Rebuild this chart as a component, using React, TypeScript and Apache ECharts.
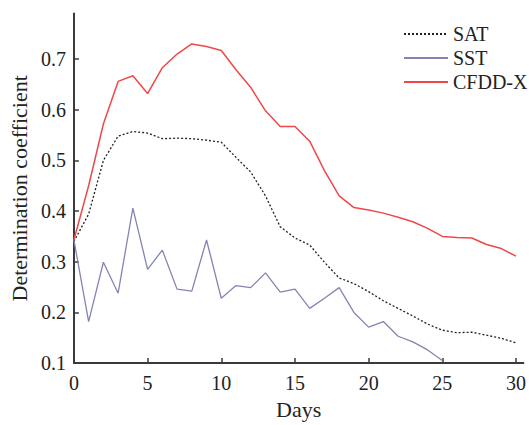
import React, { useEffect, useRef } from "react";
import * as echarts from "echarts";

const days = [0, 1, 2, 3, 4, 5, 6, 7, 8, 9, 10, 11, 12, 13, 14, 15, 16, 17, 18, 19, 20, 21, 22, 23, 24, 25, 26, 27, 28, 29, 30];

const sat = [0.34, 0.394, 0.5, 0.548, 0.557, 0.554, 0.543, 0.544, 0.543, 0.54, 0.536, 0.506, 0.477, 0.43, 0.369, 0.347, 0.333, 0.299, 0.268, 0.257, 0.241, 0.223, 0.208, 0.193, 0.177, 0.165, 0.16, 0.161, 0.155, 0.149, 0.14];

const sst = [0.343, 0.182, 0.299, 0.238, 0.406, 0.285, 0.323, 0.246, 0.242, 0.343, 0.228, 0.253, 0.249, 0.278, 0.24, 0.246, 0.208, 0.228, 0.249, 0.2, 0.171, 0.182, 0.153, 0.142, 0.126, 0.105];

const cfdd = [0.343, 0.45, 0.572, 0.656, 0.667, 0.632, 0.683, 0.71, 0.73, 0.725, 0.717, 0.679, 0.644, 0.598, 0.567, 0.567, 0.538, 0.48, 0.43, 0.407, 0.402, 0.396, 0.388, 0.379, 0.366, 0.35, 0.348, 0.347, 0.334, 0.326, 0.311];

const seriesNames = ["SAT", "SST", "CFDD-X"];
const xTicks = [0, 5, 10, 15, 20, 25, 30];
const yTicks = [0.1, 0.2, 0.3, 0.4, 0.5, 0.6, 0.7];

const FONT = "'Liberation Serif', 'Times New Roman', serif";

function pairs(values: number[]) {
  return values.map((v, i) => [days[i], v]);
}

export default function App() {
  const ref = useRef<HTMLDivElement>(null);
  useEffect(() => {
    if (!ref.current) return;
    const chart = echarts.init(ref.current, undefined, { renderer: "svg" });
    const axisColor = "#3a3a3a";
    chart.setOption({
      animation: false,
      backgroundColor: "#ffffff",
      textStyle: { fontFamily: FONT },
      grid: { left: 72, right: 1.6, top: 13.5, bottom: 51.3, containLabel: false },
      legend: {
        orient: "vertical",
        left: 403,
        top: 24,
        padding: 0,
        itemWidth: 44,
        itemHeight: 14,
        itemGap: 4,
        itemStyle: { opacity: 0 },
        textStyle: { fontFamily: FONT, fontSize: 20, color: "#222" },
        data: seriesNames,
      },
      xAxis: {
        type: "value",
        min: 0,
        max: 30.5,
        name: "Days",
        nameLocation: "middle",
        nameGap: 29,
        nameTextStyle: { fontFamily: FONT, fontSize: 22, color: "#222" },
        splitLine: { show: false },
        axisLine: { show: true, lineStyle: { color: axisColor, width: 2 } },
        axisTick: { show: true, inside: true, length: 5, customValues: xTicks, lineStyle: { color: axisColor, width: 1.5 } },
        axisLabel: { customValues: xTicks, fontFamily: FONT, fontSize: 20, color: "#222", margin: 10 },
      },
      yAxis: {
        type: "value",
        min: 0.1,
        max: 0.79,
        name: "Determination coefficient",
        nameLocation: "middle",
        nameGap: 43,
        nameTextStyle: { fontFamily: FONT, fontSize: 22, color: "#222" },
        splitLine: { show: false },
        axisLine: { show: true, lineStyle: { color: axisColor, width: 2 } },
        axisTick: { show: true, inside: true, length: 5, customValues: yTicks, lineStyle: { color: axisColor, width: 1.5 } },
        axisLabel: {
          customValues: yTicks,
          fontFamily: FONT,
          fontSize: 20,
          color: "#222",
          margin: 8,
          formatter: (v: number) => v.toFixed(1),
        },
      },
      series: [
        {
          name: seriesNames[0],
          type: "line",
          data: pairs(sat),
          symbol: "none",
          lineStyle: { color: "#222", width: 1.3, type: [2, 2] },
          itemStyle: { color: "#222" },
        },
        {
          name: seriesNames[1],
          type: "line",
          data: pairs(sst),
          symbol: "none",
          lineStyle: { color: "#8484b4", width: 1.3 },
          itemStyle: { color: "#8484b4" },
        },
        {
          name: seriesNames[2],
          type: "line",
          data: pairs(cfdd),
          symbol: "none",
          lineStyle: { color: "#f04848", width: 1.5 },
          itemStyle: { color: "#f04848" },
        },
      ],
    });
    return () => chart.dispose();
  }, []);
  return <div ref={ref} style={{ width: 529, height: 425, position: "absolute", left: 0, top: 0 }} />;
}
